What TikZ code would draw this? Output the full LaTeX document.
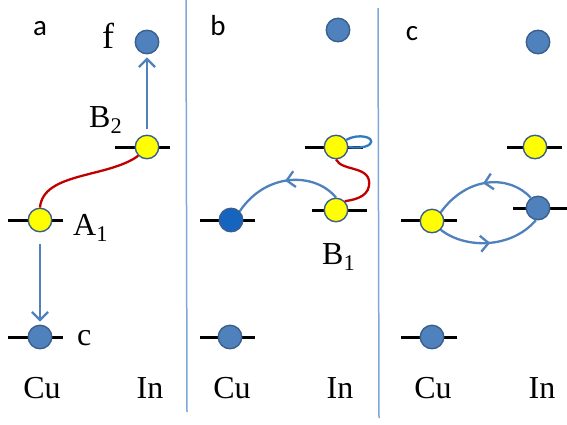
\documentclass[tikz,border=0pt]{standalone}
\usepackage{fontspec}
\setmainfont{Liberation Serif}
\newfontfamily\lblfont{Carlito}
\usetikzlibrary{arrows.meta,decorations.markings}
\definecolor{dotblue}{HTML}{4F81BD}
\definecolor{dotedge}{HTML}{3A5F8C}
\definecolor{darkdot}{HTML}{1565C0}
\definecolor{yel}{HTML}{FFFF00}
\definecolor{connc}{HTML}{4F81BD}
\definecolor{redc}{HTML}{C00000}
\definecolor{sepc}{HTML}{7FA7D9}
\definecolor{loopc}{HTML}{2E7BC4}
\tikzset{
  bluedot/.style={circle, fill=dotblue, draw=dotedge, line width=1.4pt, minimum size=23.5pt, inner sep=0pt},
  yeldot/.style={bluedot, fill=yel},
  darkdotst/.style={bluedot, fill=darkdot},
  levelline/.style={line width=3pt, black},
  connline/.style={draw=connc, line width=2.3pt},
  tip/.tip={Straight Barb[length=8pt,width=16pt]},
  arr/.style={connline, -tip},
  midarrow/.style={connline, postaction={decorate}, decoration={markings, mark=at position 0.5 with {\arrow{tip}}}},
  redline/.style={draw=redc, line width=2.3pt},
  lab/.style={font=\fontsize{32}{38}\selectfont, inner sep=0pt},
  panellab/.style={font=\lblfont\fontsize{29}{34}\selectfont, inner sep=0pt, anchor=base},
  seprule/.style={draw=sepc, line width=1.5pt}
}
\begin{document}
\begin{tikzpicture}[x=1pt,y=-1pt]
\useasboundingbox (0,0) rectangle (567,424);
% separators
\draw[seprule] (186,0) -- (187,412);
\draw[seprule] (378,8) -- (379,418);
% ---------- panel a ----------
\draw[levelline] (8,220) -- (63,220);
\draw[levelline] (115,147) -- (170,147);
\draw[levelline] (8,337) -- (63,337);
\node[bluedot] (af) at (147,42) {};
\node[yeldot] (aB) at (147,147) {};
\node[yeldot] (aA) at (40,220) {};
\node[bluedot] (ac) at (40,337) {};
\draw[arr, shorten <=6pt, shorten >=3pt] (aB) -- (af);
\draw[arr, shorten <=12pt, shorten >=3pt] (aA) -- (ac);
\draw[redline] (aA.north) .. controls (43,172) and (108,178) .. (aB.south west);
\node[panellab] (la) at (40,35) {a};
\node[lab, font=\fontsize{36}{42}\selectfont, anchor=base] (lf) at (108,48) {f};
\node[lab, anchor=base west] (lB2) at (89,127) {B\textsubscript{2}};
\node[lab, anchor=base west] (lA1) at (73,235) {A\textsubscript{1}};
\node[lab, anchor=base west] (lc) at (77,345) {c};
\node[lab, anchor=base] (aCu) at (42,398) {Cu};
\node[lab, anchor=base] (aIn) at (150,398) {In};
% ---------- panel b ----------
\draw[levelline] (305,147) -- (363,147);
\draw[levelline] (312,210) -- (367,210);
\draw[levelline] (200,220) -- (255,220);
\draw[levelline] (200,337) -- (255,337);
\node[bluedot] (bf) at (338,30) {};
\node[yeldot] (bU) at (336,147) {};
\node[yeldot] (bL) at (336,210) {};
\node[darkdotst] (bCu) at (231,220) {};
\node[bluedot] (bc) at (230,337) {};
\draw[draw=loopc, line width=2.3pt] (bU.35) .. controls (358,133) and (376,137) .. (370,144) .. controls (366,148) and (356,148) .. (bU.east);
\draw[redline] (bU.south) .. controls (342,172) and (372,165) .. (369,186) .. controls (367,198) and (352,200) .. (bL.north east);
\draw[midarrow] (bL.north) .. controls (315,172) and (266,172) .. (bCu.north east);
\node[panellab] (lb) at (218,35) {b};
\node[lab, anchor=base west] (lB1) at (322,264) {B\textsubscript{1}};
\node[lab, anchor=base] (bCut) at (232,398) {Cu};
\node[lab, anchor=base] (bInt) at (340,398) {In};
% ---------- panel c ----------
\draw[levelline] (507,147) -- (562,147);
\draw[levelline] (513,208) -- (567,208);
\draw[levelline] (401,220) -- (457,220);
\draw[levelline] (401,337) -- (457,337);
\node[bluedot] (cf) at (538,42) {};
\node[yeldot] (cY) at (535,147) {};
\node[bluedot] (cB) at (538,208) {};
\node[yeldot] (cA) at (432,221) {};
\node[bluedot] (cc) at (432,337) {};
\draw[midarrow] (cB.125) .. controls (510,175) and (468,175) .. (cA.45);
\draw[midarrow] (cA.-45) .. controls (465,249) and (511,249) .. (cB.-100);
\node[panellab] (lcc) at (412,40) {c};
\node[lab, anchor=base] (cCut) at (433,398) {Cu};
\node[lab, anchor=base] (cInt) at (542,398) {In};
\end{tikzpicture}
\end{document}
